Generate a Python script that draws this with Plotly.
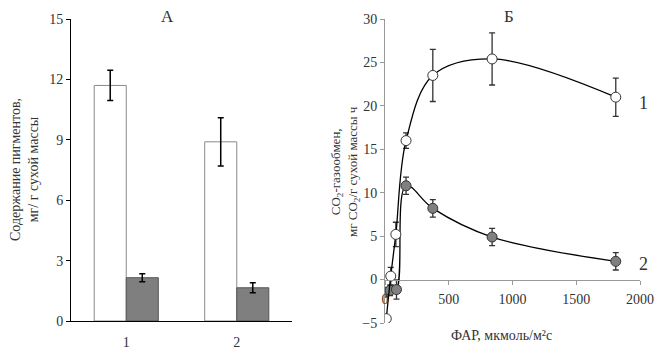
import plotly.graph_objects as go

# Panel A data
bar_categories = ["1", "2"]
pigment_white = [11.7, 8.9]
pigment_white_err = [0.75, 1.2]
pigment_grey = [2.15, 1.65]
pigment_grey_err = [0.2, 0.25]

# Panel Б data
par_1 = [10, 45, 85, 165, 375, 840, 1810]
gas_1 = [-4.5, 0.4, 5.2, 16.0, 23.5, 25.4, 21.0]
gas_1_err = [0, 1.0, 1.4, 0.9, 3.0, 3.0, 2.2]
par_2 = [5, 40, 90, 165, 375, 840, 1810]
gas_2 = [-1.45, -1.25, -1.15, 10.8, 8.2, 4.9, 2.1]
gas_2_err = [0.5, 0.6, 1.1, 1.0, 1.0, 1.0, 1.0]

W, H = 666, 351
FONT = "Liberation Serif, Times New Roman, serif"

def px_x(p):
    return p / W

def px_y(p):
    return (H - p) / H

fig = go.Figure()

fig.add_trace(go.Bar(
    x=bar_categories, y=pigment_white,
    error_y=dict(type="data", array=pigment_white_err, color="black", thickness=1.5, width=3),
    marker=dict(color="white", line=dict(color="#8a8a8a", width=1)),
    xaxis="x", yaxis="y", showlegend=False,
))
fig.add_trace(go.Bar(
    x=bar_categories, y=pigment_grey,
    error_y=dict(type="data", array=pigment_grey_err, color="black", thickness=1.5, width=3),
    marker=dict(color="#7f7f7f", line=dict(color="#555555", width=1)),
    xaxis="x", yaxis="y", showlegend=False,
))

fig.add_trace(go.Scatter(
    x=par_2, y=gas_2, mode="lines+markers",
    line=dict(color="black", width=1.3, shape="spline", smoothing=1.0),
    marker=dict(size=10, color="#808080", line=dict(color="#333333", width=1)),
    error_y=dict(type="data", array=gas_2_err, color="#333333", thickness=1.3, width=3),
    xaxis="x2", yaxis="y2", showlegend=False,
))
fig.add_trace(go.Scatter(
    x=par_1, y=gas_1, mode="lines+markers",
    line=dict(color="black", width=1.3, shape="spline", smoothing=1.0),
    marker=dict(size=10, color="white", line=dict(color="#333333", width=1)),
    error_y=dict(type="data", array=gas_1_err, color="#333333", thickness=1.3, width=3),
    xaxis="x2", yaxis="y2", showlegend=False,
))

def tickfont():
    return dict(family=FONT, size=14, color="#333333")

y2_bottom = px_y(323)
y2_top = px_y(19)
zero_pos = px_y(280)

fig.update_layout(
    width=W, height=H, autosize=False,
    margin=dict(l=0, r=0, t=0, b=0, pad=0, autoexpand=False),
    paper_bgcolor="white", plot_bgcolor="white",
    barmode="group", bargap=0.42, bargroupgap=0,
    font=dict(family=FONT, size=14, color="#333333"),
    xaxis=dict(domain=[px_x(71), px_x(292)], anchor="y", type="category",
               range=[-0.5, 1.5], showline=True, linecolor="black", linewidth=1,
               ticks="", tickfont=tickfont(), showgrid=False, zeroline=False,
               ticklabelstandoff=8, automargin=False),
    yaxis=dict(domain=[px_y(321), px_y(19)], anchor="x", range=[0, 15],
               tickvals=[0, 3, 6, 9, 12, 15], showline=True, linecolor="black",
               linewidth=1, ticks="outside", ticklen=4, tickcolor="black",
               tickfont=tickfont(), showgrid=False, zeroline=False, automargin=False),
    xaxis2=dict(domain=[px_x(385), px_x(640)], anchor="free", position=zero_pos,
                range=[0, 2000], tickvals=[0, 500, 1000, 1500, 2000],
                showline=True, linecolor="#999999", linewidth=1,
                ticks="outside", ticklen=4, tickcolor="#999999",
                tickfont=tickfont(), showgrid=False, zeroline=False, automargin=False,
                ticklabelstandoff=2),
    yaxis2=dict(domain=[y2_bottom, y2_top], anchor="x2", range=[-5, 30],
                tickvals=[-5, 0, 5, 10, 15, 20, 25, 30], showline=True,
                linecolor="#999999", linewidth=1, ticks="outside", ticklen=4,
                tickcolor="#999999", tickfont=tickfont(), showgrid=False,
                zeroline=False, automargin=False),
)

def afont(size):
    return dict(family=FONT, size=size, color="#333333")

def ann(text, x, y, size, angle=0):
    return dict(text=text, x=px_x(x), y=px_y(y), xref="paper", yref="paper",
                xanchor="center", yanchor="middle", showarrow=False,
                textangle=angle, font=afont(size))

annotations = [
    ann("А", 168, 16, 17),
    ann("Б", 509, 16, 17),
    ann("Содержание пигментов,<br>мг/ г сухой массы", 24, 170, 14, -90),
    ann("СО<sub>2</sub>-газообмен,<br>мг СО<sub>2</sub>/г сухой массы ч", 345, 172, 13, -90),
    ann("ФАР, мкмоль/м²с", 501, 335, 14),
    ann("1", 643, 103, 18),
    ann("2", 643, 264, 18),
]
fig.update_layout(annotations=annotations)

fig.write_html(
    "out.html",
    config={"displayModeBar": False},
    post_script="document.body.style.margin='0';document.body.style.overflow='hidden';",
)
